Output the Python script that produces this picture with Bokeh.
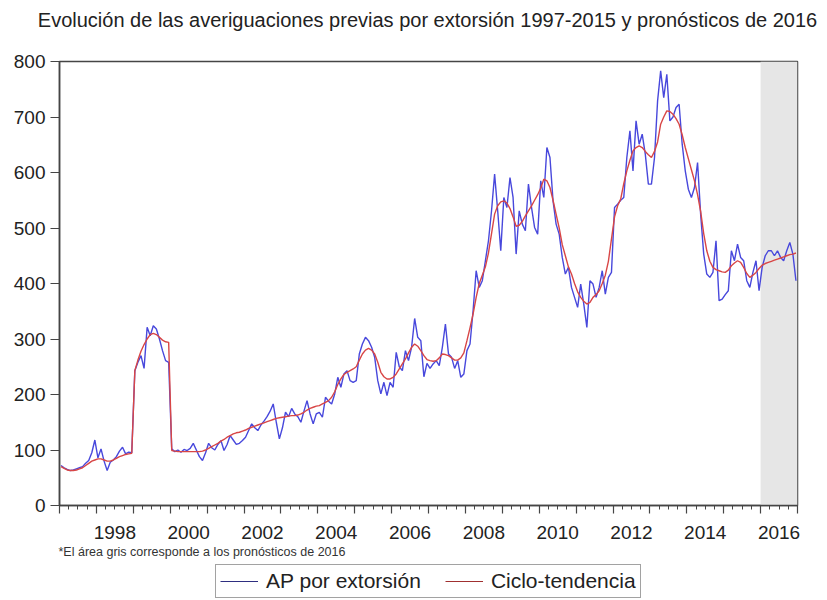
from bokeh.plotting import figure
from bokeh.models import (FixedTicker, Range1d, BoxAnnotation, Legend, LegendItem,
                          Title, LinearAxis, CustomLabelingPolicy, Label)
from bokeh.layouts import column
from bokeh.embed import file_html
from bokeh.resources import INLINE

# ---------------- data ----------------
title_text = "Evolución de las averiguaciones previas por extorsión 1997-2015 y pronósticos de 2016"
footnote_text = "*El área gris corresponde a los pronósticos de 2016"
series_names = ["AP por extorsión", "Ciclo-tendencia"]

start_year = 1997
end_year = 2017
forecast_start = 2016
forecast_end = 2017
x_label_years = [1998, 2000, 2002, 2004, 2006, 2008, 2010, 2012, 2014, 2016]
y_ticks = [0, 100, 200, 300, 400, 500, 600, 700, 800]

# monthly values, Jan 1997 .. Dec 2016 (one row per year)
ap_extorsion = [
    72, 68, 65, 63, 64, 66, 68, 70, 76, 81, 95, 118,          # 1997
    86, 102, 80, 63, 78, 82, 88, 98, 105, 93, 96, 95,         # 1998
    243, 258, 270, 247, 321, 306, 324, 318, 300, 279, 261, 258,  # 1999
    102, 97, 100, 96, 101, 99, 103, 112, 100, 88, 81, 95,     # 2000
    112, 104, 100, 110, 117, 99, 110, 126, 118, 110, 112, 117,  # 2001
    123, 135, 147, 140, 135, 145, 152, 160, 170, 183, 150, 120,  # 2002
    140, 168, 160, 175, 165, 160, 150, 170, 189, 165, 147, 165,  # 2003
    168, 159, 195, 188, 183, 201, 231, 213, 237, 243, 225, 222,  # 2004
    225, 273, 291, 303, 297, 285, 267, 225, 201, 222, 198, 222,  # 2005
    213, 276, 250, 243, 279, 261, 285, 337, 303, 297, 232, 256,  # 2006
    247, 255, 261, 252, 285, 327, 273, 267, 247, 261, 231, 237,  # 2007
    279, 291, 351, 423, 393, 405, 441, 477, 531, 597, 531, 459,  # 2008
    555, 537, 591, 555, 453, 531, 507, 495, 579, 537, 501, 489,  # 2009
    585, 555, 645, 627, 549, 507, 489, 447, 417, 429, 393, 375,  # 2010
    357, 399, 363, 321, 405, 399, 375, 393, 423, 381, 411, 420,  # 2011
    537, 543, 550, 555, 627, 675, 603, 693, 651, 669, 633, 579,  # 2012
    579, 627, 729, 783, 735, 777, 693, 700, 717, 723, 651, 603,  # 2013
    570, 555, 573, 618, 525, 453, 417, 411, 420, 477, 369, 372,  # 2014
    380, 387, 459, 441, 471, 447, 441, 405, 393, 420, 441, 387,  # 2015
    429, 450, 459, 459, 450, 459, 447, 441, 459, 474, 453, 405,  # 2016
]

ciclo_tendencia = [
    70, 67, 64, 63, 63, 64, 66, 68, 72, 76, 80, 82,           # 1997
    84, 84, 82, 80, 80, 82, 85, 88, 90, 92, 93, 94,           # 1998
    243, 262, 278, 290, 300, 308, 310, 308, 303, 298, 295, 294,  # 1999
    99, 98, 97, 97, 97, 97, 97, 97, 97, 97, 98, 100,          # 2000
    103, 106, 109, 112, 116, 119, 123, 126, 129, 131, 132, 134,  # 2001
    136, 139, 141, 143, 145, 147, 149, 151, 153, 155, 157, 158,  # 2002
    159, 160, 161, 162, 162, 163, 165, 168, 172, 175, 177, 179,  # 2003
    180, 183, 186, 189, 195, 205, 218, 228, 236, 240, 243, 246,  # 2004
    250, 262, 273, 280, 283, 280, 273, 258, 240, 232, 228, 228,  # 2005
    231, 237, 246, 255, 264, 275, 285, 291, 287, 279, 270, 263,  # 2006
    261, 260, 261, 266, 273, 272, 270, 266, 262, 262, 266, 275,  # 2007
    297, 320, 345, 375, 400, 415, 430, 455, 490, 525, 540, 547,  # 2008
    549, 545, 535, 520, 503, 505, 512, 522, 531, 540, 550, 560,  # 2009
    572, 588, 585, 573, 550, 525, 500, 470, 450, 430, 417, 400,  # 2010
    385, 375, 368, 363, 366, 375, 380, 387, 400, 415, 440, 480,  # 2011
    520, 540, 552, 580, 603, 622, 639, 645, 648, 645, 638, 632,  # 2012
    627, 638, 655, 687, 700, 711, 710, 705, 697, 687, 668, 645,  # 2013
    625, 605, 585, 560, 530, 490, 459, 440, 429, 425, 423, 421,  # 2014
    420, 424, 432, 437, 441, 438, 429, 418, 411, 415, 420, 427,  # 2015
    433, 436, 438, 440, 442, 444, 446, 448, 450, 452, 453, 455,  # 2016
]

# ---------------- styling ----------------
FONT = "Liberation Sans"
FRAME = "#454545"
TEXT = "#222222"
BLUE = "#4848dc"
RED = "#d84646"


def strip(height):
    f = figure(width=827, height=height, output_backend="svg", toolbar_location=None,
               x_range=Range1d(0, 1), y_range=Range1d(0, 1), title=None,
               x_axis_location=None, y_axis_location=None,
               min_border_left=0, min_border_right=0,
               min_border_top=0, min_border_bottom=0)
    f.frame_align = False
    f.outline_line_color = None
    f.xgrid.visible = False
    f.ygrid.visible = False
    f.background_fill_color = "white"
    f.border_fill_color = "white"
    return f


# ---------------- title strip ----------------
tf = strip(40)
tf.add_layout(Label(x=427, y=21, x_units="screen", y_units="screen",
                    text=title_text, text_font=FONT, text_font_size="20px",
                    text_color=TEXT, text_align="center",
                    text_baseline="alphabetic"))

# ---------------- main chart ----------------
# month mid-points as fractional years
t = [start_year + (i + 0.5) / 12 for i in range(len(ap_extorsion))]

p = figure(width=827, height=520, output_backend="svg", toolbar_location=None,
           x_range=Range1d(start_year, end_year), y_range=Range1d(0, 800),
           title=None,
           min_border_left=59, min_border_right=30, min_border_top=21,
           min_border_bottom=55)

p.background_fill_color = "white"
p.border_fill_color = "white"
p.outline_line_color = FRAME
p.outline_line_width = 1.5
p.xgrid.visible = False
p.ygrid.visible = False

# forecast shading
p.add_layout(BoxAnnotation(left=forecast_start, right=forecast_end,
                           fill_color="#e6e6e6", fill_alpha=1.0,
                           line_color=None, level="underlay"))

# series
r_ap = p.line(t, ap_extorsion, line_color=BLUE, line_width=1.4)
r_ct = p.line(t, ciclo_tendencia, line_color=RED, line_width=1.4)

# y axis
ya = p.yaxis[0]
ya.ticker = FixedTicker(ticks=y_ticks, minor_ticks=[])
ya.major_tick_out = 9
ya.major_tick_in = 0
ya.major_label_standoff = 5
ya.major_label_text_font = FONT
ya.major_label_text_font_size = "19px"
ya.major_label_text_color = TEXT
ya.axis_line_color = FRAME
ya.axis_line_width = 1.5
ya.major_tick_line_color = FRAME
ya.major_tick_line_width = 1.2

# x axis 1: tick marks only (long at year starts, short at quarters)
year_starts = list(range(start_year, end_year + 1))
quarters = [y + q / 4 for y in range(start_year, end_year) for q in (1, 2, 3)]
xa = p.xaxis[0]
xa.ticker = FixedTicker(ticks=year_starts, minor_ticks=quarters)
xa.major_label_policy = CustomLabelingPolicy(code="""
    for (const i of indices) { indices.unset(i) }
    return indices
""")
xa.major_tick_out = 8
xa.major_tick_in = 0
xa.minor_tick_out = 4
xa.minor_tick_in = 0
xa.major_label_standoff = 0
xa.major_label_text_font_size = "1px"
xa.axis_line_color = FRAME
xa.axis_line_width = 1.5
xa.major_tick_line_color = FRAME
xa.major_tick_line_width = 1.2
xa.minor_tick_line_color = FRAME
xa.minor_tick_line_width = 1

# x axis 2: year labels centred on the middle of each labelled year
label_pos = [y + 0.5 for y in x_label_years]
xb = LinearAxis(ticker=FixedTicker(ticks=label_pos, minor_ticks=[]),
                major_tick_out=0, major_tick_in=0, minor_tick_out=0,
                axis_line_color=None, major_tick_line_color=None,
                minor_tick_line_color=None,
                major_label_overrides={pos: str(y) for pos, y in zip(label_pos, x_label_years)},
                major_label_text_font=FONT, major_label_text_font_size="19px",
                major_label_text_color=TEXT, major_label_standoff=8)
p.add_layout(xb, "below")

# footnote
p.add_layout(Title(text=footnote_text, align="left", offset=-1,
                   text_font=FONT, text_font_size="12.5px",
                   text_font_style="normal", text_color="#333333",
                   standoff=2), "below")

# ---------------- legend strip ----------------
lf = strip(40)
# legend sample glyphs (darker, as in the reference legend); their data lie
# outside this strip's ranges so only the legend samples are visible
leg_ap = lf.line(t, ap_extorsion, line_color="#2e2e80", line_width=1.2)
leg_ct = lf.line(t, ciclo_tendencia, line_color="#a03030", line_width=1.2)

legend = Legend(items=[LegendItem(label=series_names[0], renderers=[leg_ap]),
                       LegendItem(label=series_names[1], renderers=[leg_ct])],
                orientation="horizontal", location=(215, 2),
                label_text_font=FONT, label_text_font_size="21px",
                label_text_color=TEXT, glyph_width=38, glyph_height=20,
                label_standoff=8, spacing=24, padding=4, margin=0,
                border_line_color=FRAME, border_line_width=1,
                background_fill_color="white", background_fill_alpha=1.0)
lf.add_layout(legend, "center")

layout = column(tf, p, lf, spacing=0)
open("out.html", "w").write(file_html(layout, INLINE))
